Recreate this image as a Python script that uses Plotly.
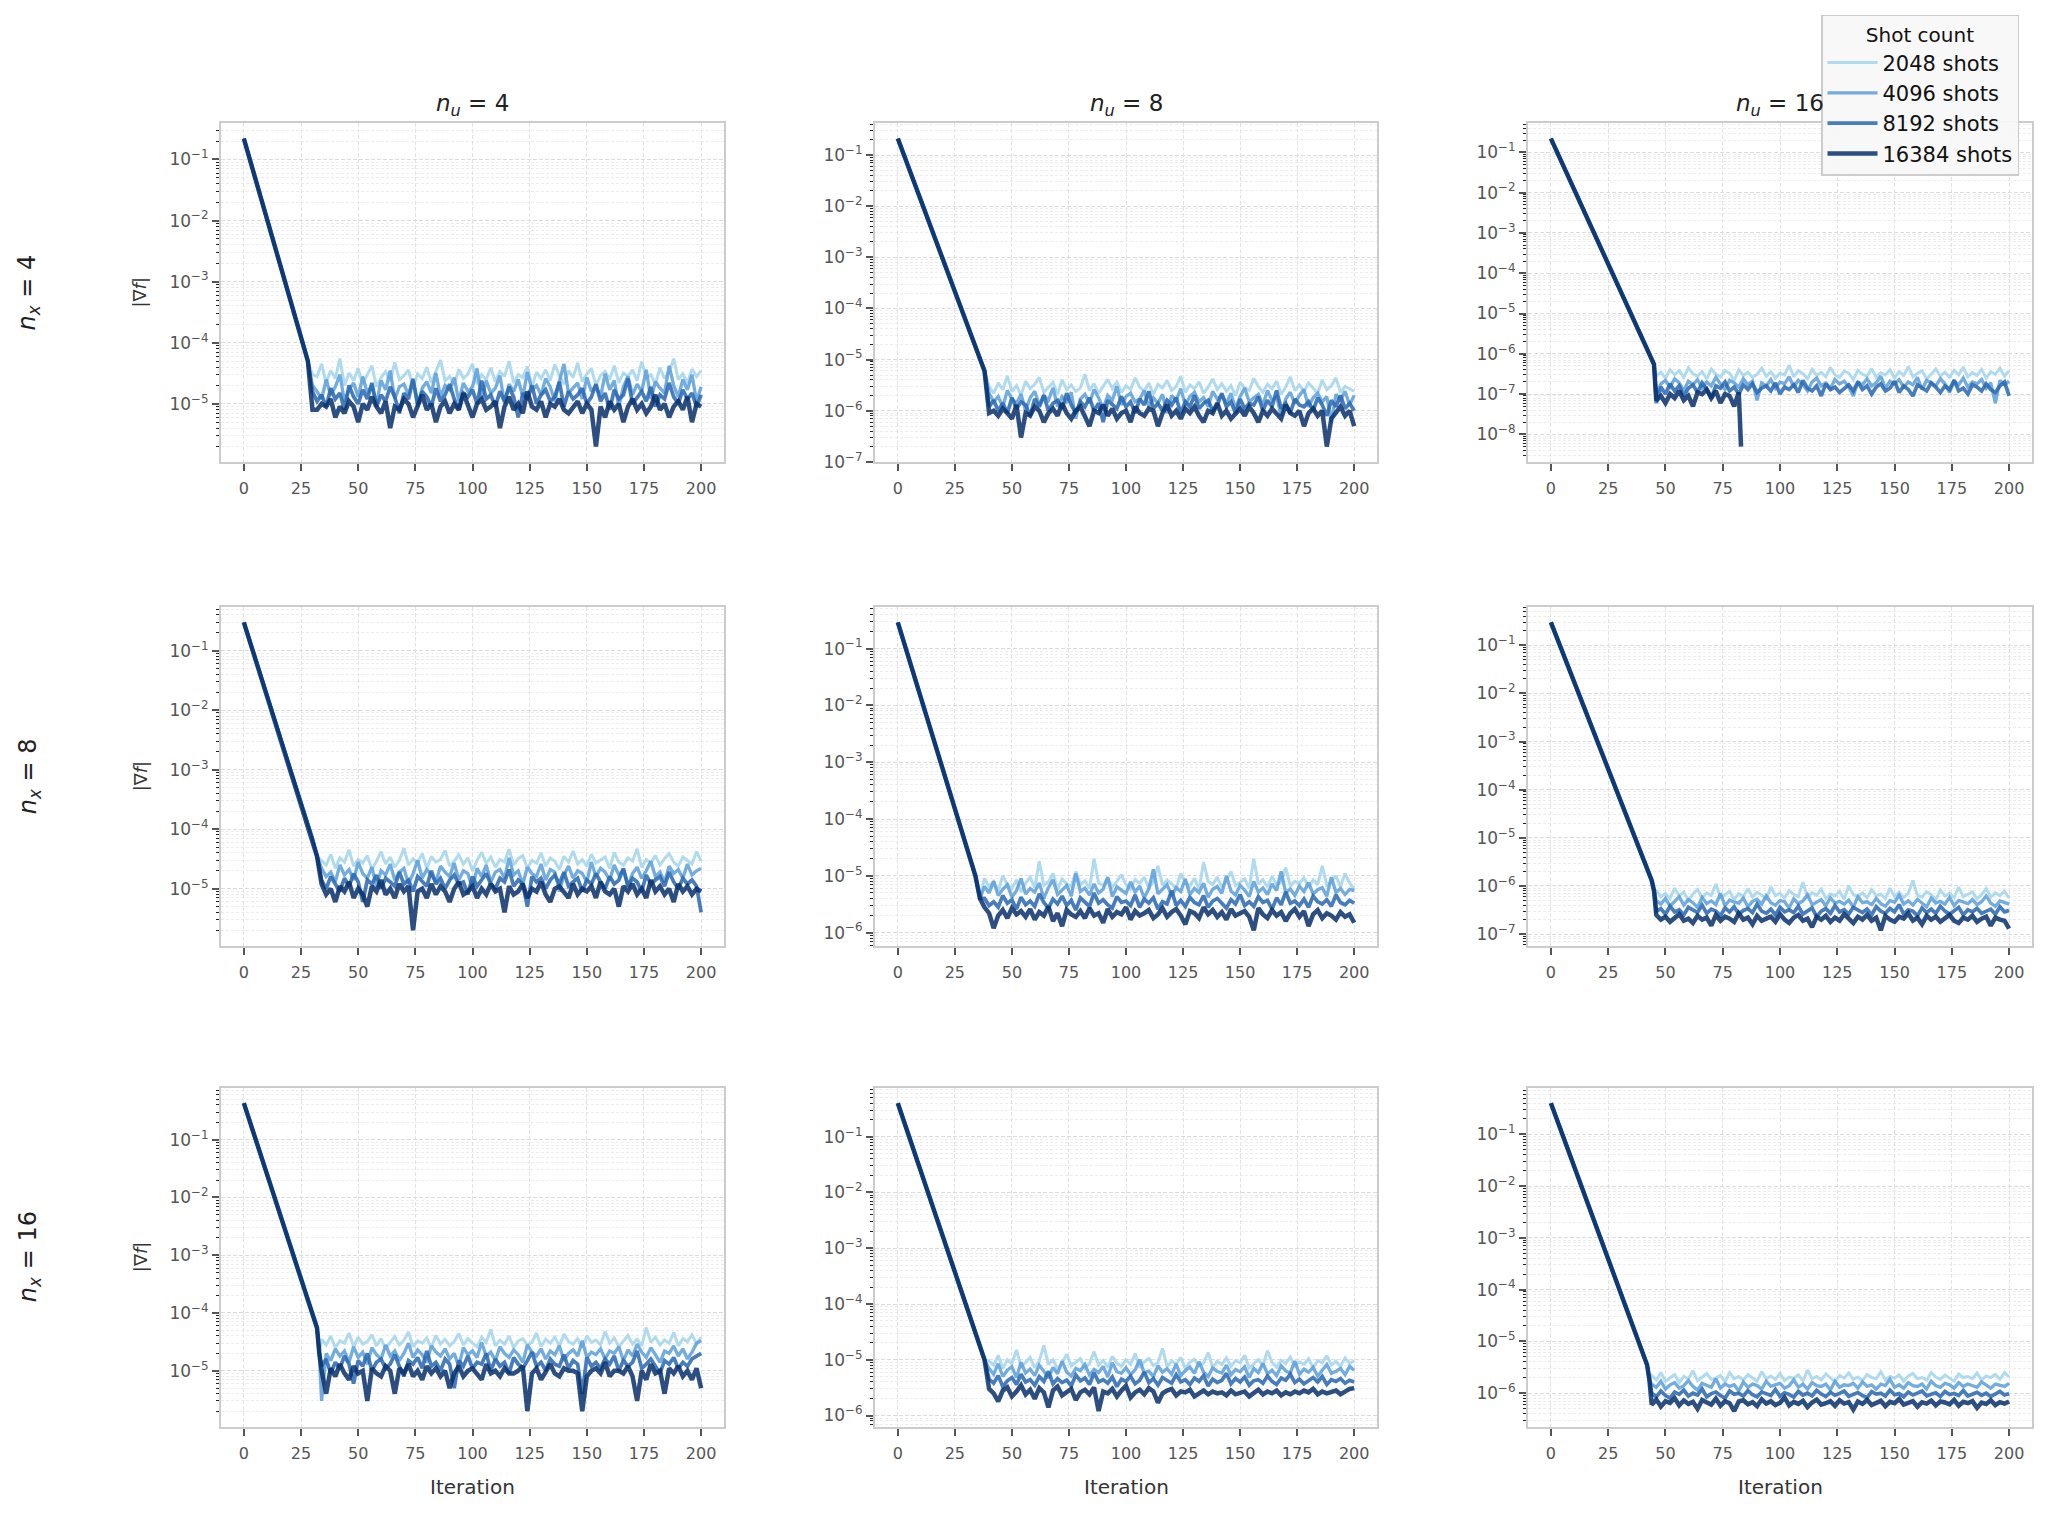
import numpy as np
import plotly.graph_objects as go

W, H = 2046, 1513
SHOTS = ["2048 shots", "4096 shots", "8192 shots", "16384 shots"]
COLORS = ["#a3d5ec", "#5b9fdb", "#2767b1", "#08306b"]
WIDTHS = [3.0, 3.3, 3.7, 4.5]
NU = [4, 8, 16]
NX = [4, 8, 16]
X_TICKS = [0, 25, 50, 75, 100, 125, 150, 175, 200]

# ---------------- row 1 : n_x = 4 ----------------
R1C1_DESC_X = [0, 25, 28]
R1C1_DESC_Y = [0.22, 1.2e-4, 5e-5]
R1C1_START, R1C1_UNIT = 30, 1e-6
R1C1_2048 = [30, 28, 45, 22, 35, 26, 55, 20, 32, 24,
             38, 21, 30, 42, 19, 27, 34, 23, 48, 25,
             29, 36, 18, 31, 26, 40, 22, 33, 52, 24,
             28, 20, 37, 26, 31, 45, 21, 30, 25, 39,
             23, 34, 28, 50, 22, 30, 27, 41, 19, 33,
             26, 36, 24, 44, 29, 21, 35, 27, 47, 23,
             31, 38, 20, 29, 34, 25, 42, 22, 32, 28,
             36, 24, 49, 27, 30, 21, 39, 26, 33, 55,
             25, 31, 22, 37, 28, 35]
R1C1_4096 = [20, 16, 12, 25, 14, 19, 30, 11, 17, 22,
             13, 28, 15, 20, 10, 24, 17, 35, 12, 19,
             21, 14, 26, 9, 18, 23, 15, 32, 13, 20,
             17, 27, 11, 22, 16, 19, 38, 12, 24, 15,
             18, 29, 10, 21, 16, 25, 13, 33, 17, 20,
             14, 26, 19, 11, 23, 45, 15, 18, 22, 12,
             27, 16, 20, 13, 31, 17, 24, 9, 19, 28,
             14, 21, 16, 36, 12, 23, 18, 15, 42, 20,
             13, 25, 17, 30, 11, 19]
R1C1_8192 = [16, 11, 14, 9, 18, 12, 15, 8, 20, 13,
             10, 17, 12, 22, 9, 14, 11, 19, 13, 7,
             15, 12, 25, 10, 16, 13, 9, 18, 11, 14,
             21, 12, 8, 15, 13, 17, 10, 24, 12, 14,
             9, 16, 11, 19, 13, 6, 15, 12, 20, 10,
             14, 17, 11, 13, 23, 9, 16, 12, 14, 18,
             10, 13, 21, 11, 15, 8, 17, 12, 14, 26,
             10, 13, 16, 11, 19, 9, 14, 12, 22, 13,
             10, 17, 12, 15, 9, 14]
R1C1_16384 = [8, 8, 10, 9, 12, 6, 9, 7, 11, 9,
              5, 10, 8, 13, 9, 7, 11, 4, 9, 8,
              12, 10, 6, 9, 14, 8, 10, 5, 9, 11,
              7, 10, 8, 15, 9, 6, 10, 12, 8, 9,
              11, 4, 9, 13, 8, 10, 7, 16, 9, 8,
              11, 6, 10, 9, 12, 8, 7, 9, 11, 7,
              10, 8, 2, 9, 6, 11, 8, 10, 5, 9,
              12, 8, 10, 7, 9, 14, 8, 10, 6, 9,
              11, 8, 13, 5, 10, 9]

R1C2_DESC_X = [0, 36, 38]
R1C2_DESC_Y = [0.21, 1.0e-5, 6e-6]
R1C2_START, R1C2_UNIT = 40, 1e-7
R1C2_2048 = [30, 22, 35, 26, 48, 24, 31, 20, 38, 27,
             33, 45, 23, 29, 36, 21, 40, 26, 32, 24,
             28, 52, 25, 34, 22, 30, 41, 27, 36, 23,
             31, 26, 44, 29, 24, 35, 21, 33, 28, 39,
             25, 30, 47, 23, 32, 27, 37, 22, 29, 42,
             26, 34, 24, 31, 20, 36, 28, 25, 43, 30,
             23, 33, 27, 38, 21, 29, 46, 25, 32, 24,
             35, 28, 22, 40, 26, 31, 44, 23, 30, 27,
             24]
R1C2_4096 = [22, 15, 19, 12, 25, 17, 14, 21, 10, 18,
             24, 13, 20, 16, 28, 12, 19, 15, 23, 7,
             17, 21, 14, 26, 18, 11, 20, 16, 30, 13,
             19, 22, 15, 17, 25, 12, 18, 14, 21, 9,
             20, 16, 27, 13, 19, 23, 15, 18, 12, 24,
             17, 20, 14, 22, 11, 19, 28, 15, 18, 21,
             13, 25, 16, 19, 8, 17, 23, 14, 20, 26,
             12, 18, 22, 15, 19, 6, 21, 16, 24, 13,
             20]
R1C2_8192 = [12, 16, 10, 14, 9, 18, 11, 15, 13, 8,
             17, 12, 20, 10, 14, 16, 11, 22, 13, 9,
             15, 12, 18, 10, 14, 6, 16, 13, 11, 19,
             12, 15, 9, 17, 13, 24, 11, 14, 10, 16,
             13, 18, 9, 15, 12, 20, 11, 14, 16, 10,
             13, 22, 12, 15, 9, 17, 11, 14, 13, 19,
             10, 16, 12, 25, 11, 14, 9, 17, 13, 12,
             15, 10, 18, 13, 8, 16, 12, 20, 11, 14,
             10]
R1C2_16384 = [9, 10, 8, 11, 9, 7, 13, 3, 9, 8,
              12, 10, 6, 9, 11, 8, 14, 9, 7, 10,
              12, 8, 5, 10, 9, 13, 8, 11, 7, 9,
              10, 6, 12, 9, 8, 11, 10, 5, 9, 13,
              8, 10, 7, 11, 9, 12, 8, 6, 10, 9,
              14, 8, 10, 7, 9, 11, 8, 12, 9, 6,
              10, 8, 11, 9, 7, 13, 9, 8, 10, 5,
              9, 11, 8, 10, 2, 7, 9, 12, 8, 10,
              5]

R1C3_DESC_X = [0, 44, 45]
R1C3_DESC_Y = [0.22, 8e-7, 5.5e-7]
R1C3_START, R1C3_UNIT = 46, 1e-8
R1C3_2048 = [28, 35, 25, 40, 30, 38, 26, 45, 32, 28,
             36, 24, 42, 31, 27, 38, 33, 22, 40, 29,
             35, 26, 31, 44, 28, 36, 25, 33, 30, 52,
             27, 38, 32, 24, 41, 29, 35, 27, 46, 30,
             26, 37, 33, 23, 39, 31, 28, 43, 26, 34,
             30, 40, 25, 36, 29, 48, 27, 33, 38, 24,
             31, 42, 28, 35, 26, 39, 30, 47, 27, 34,
             29, 41, 25, 36, 31, 44, 28, 38]
R1C3_4096 = [10, 18, 22, 15, 24, 19, 12, 21, 17, 23,
             14, 20, 16, 26, 18, 13, 22, 19, 15, 24,
             17, 21, 7, 19, 16, 23, 14, 20, 18, 27,
             15, 22, 17, 12, 20, 25, 16, 19, 14, 23,
             18, 21, 15, 9, 20, 17, 24, 16, 19, 28,
             14, 21, 18, 23, 15, 20, 17, 26, 13, 22,
             19, 16, 24, 18, 11, 21, 17, 25, 15, 20,
             18, 23, 14, 19, 6, 22, 17, 21]
R1C3_8192 = [6, 15, 10, 18, 12, 16, 9, 14, 17, 11,
             19, 13, 8, 16, 14, 20, 12, 15, 10, 17,
             13, 18, 11, 14, 16, 12, 19, 10, 15, 13,
             17, 11, 22, 14, 12, 16, 9, 18, 13, 15,
             11, 14, 17, 12, 20, 13, 16, 10, 15, 18,
             12, 14, 21, 11, 16, 13, 9, 17, 14, 12,
             19, 15, 11, 16, 13, 22, 12, 14, 10, 17,
             15, 12, 18, 13, 11, 16, 20, 9]
R1C3_16384 = [7, 9, 6, 10, 8, 12, 7, 9, 5, 11,
              10, 13, 8, 12, 6, 10, 9, 5, 11]
R1C3_16384_END_X, R1C3_16384_END_Y = 83, 5e-9

# ---------------- row 2 : n_x = 8 ----------------
R2C1_DESC_X = [0, 30, 32]
R2C1_DESC_Y = [0.3, 7e-5, 3.5e-5]
R2C1_START, R2C1_UNIT = 34, 1e-6
R2C1_2048 = [30, 25, 38, 22, 33, 28, 45, 24, 31, 27,
             36, 21, 29, 42, 26, 34, 23, 30, 48, 25,
             32, 27, 39, 22, 35, 28, 31, 44, 24, 29,
             37, 26, 33, 20, 30, 41, 27, 34, 23, 31,
             28, 46, 25, 32, 36, 22, 30, 27, 40, 24,
             33, 29, 21, 35, 28, 43, 26, 31, 24, 38,
             27, 30, 34, 22, 41, 28, 25, 33, 29, 47,
             23, 31, 27, 36, 25, 32, 39, 28, 24, 34,
             30, 26, 42, 29]
R2C1_4096 = [22, 16, 19, 13, 25, 17, 21, 14, 28, 18,
             15, 23, 11, 20, 17, 26, 14, 19, 22, 12,
             18, 30, 15, 21, 17, 13, 24, 19, 16, 27,
             14, 20, 18, 10, 22, 16, 25, 13, 19, 21,
             15, 33, 17, 20, 12, 23, 18, 16, 26, 14,
             21, 19, 9, 17, 24, 15, 20, 18, 13, 28,
             16, 22, 19, 14, 25, 17, 21, 11, 18, 23,
             15, 20, 29, 16, 19, 13, 24, 18, 21, 15,
             26, 17, 20, 22]
R2C1_8192 = [14, 10, 16, 12, 9, 15, 11, 18, 13, 6,
             14, 12, 17, 10, 15, 13, 11, 19, 12, 14,
             9, 16, 13, 11, 20, 12, 15, 10, 14, 17,
             12, 13, 8, 16, 11, 14, 18, 12, 10, 15,
             13, 21, 11, 14, 12, 5, 16, 13, 15, 10,
             14, 17, 12, 19, 11, 13, 15, 9, 14, 12,
             18, 13, 10, 16, 12, 14, 22, 11, 15, 13,
             9, 17, 12, 14, 16, 11, 19, 13, 10, 15,
             12, 14, 11, 4]
R2C1_16384 = [12, 8, 10, 6, 11, 9, 13, 7, 10, 8,
              5, 11, 9, 14, 8, 10, 7, 12, 9, 11,
              2, 9, 10, 7, 12, 8, 11, 9, 6, 10,
              13, 8, 9, 11, 7, 10, 8, 12, 9, 10,
              4, 11, 8, 9, 12, 7, 10, 9, 13, 8,
              6, 10, 11, 9, 7, 12, 8, 10, 9, 11,
              7, 13, 9, 8, 10, 5, 11, 9, 12, 8,
              10, 7, 14, 9, 11, 8, 10, 6, 12, 9,
              11, 8, 10, 9]

R2C2_DESC_X = [0, 34, 36]
R2C2_DESC_Y = [0.29, 1e-5, 4e-6]
R2C2_START, R2C2_UNIT = 38, 1e-7
R2C2_2048 = [90, 65, 80, 55, 100, 70, 60, 85, 52, 75,
             95, 62, 180, 68, 78, 110, 58, 88, 72, 65,
             120, 70, 82, 60, 200, 75, 68, 92, 63, 80,
             105, 70, 58, 86, 74, 95, 62, 78, 150, 68,
             84, 72, 60, 110, 76, 66, 90, 58, 175, 80,
             70, 95, 63, 82, 120, 68, 76, 88, 60, 200,
             72, 85, 64, 98, 70, 78, 140, 66, 80, 74,
             92, 62, 85, 70, 150, 68, 78, 100, 64, 110,
             75, 58]
R2C2_4096 = [65, 50, 80, 45, 58, 70, 42, 55, 90, 48,
             60, 52, 75, 40, 62, 85, 47, 56, 68, 44,
             110, 53, 61, 46, 72, 50, 58, 95, 43, 64,
             55, 49, 78, 52, 66, 41, 59, 130, 48, 57,
             70, 45, 62, 53, 88, 47, 60, 51, 74, 42,
             58, 65, 49, 100, 54, 46, 68, 56, 43, 80,
             52, 61, 47, 72, 55, 120, 50, 59, 45, 66,
             53, 76, 48, 57, 62, 44, 95, 51, 60, 47,
             58, 55]
R2C2_8192 = [40, 30, 35, 28, 45, 33, 38, 26, 42, 31,
             36, 29, 48, 34, 27, 39, 32, 44, 30, 37,
             25, 41, 35, 29, 50, 33, 38, 31, 27, 43,
             34, 36, 30, 46, 28, 39, 33, 41, 26, 35,
             32, 55, 30, 37, 29, 42, 34, 31, 45, 28,
             36, 40, 33, 27, 38, 32, 47, 30, 35, 29,
             43, 34, 37, 26, 41, 31, 52, 33, 36, 30,
             39, 28, 44, 35, 32, 38, 29, 46, 34, 31,
             37, 33]
R2C2_16384 = [28, 22, 12, 20, 25, 18, 27, 21, 24, 19,
              26, 17, 23, 20, 29, 16, 22, 13, 25, 21,
              19, 24, 18, 27, 20, 22, 15, 26, 19, 23,
              21, 28, 17, 24, 20, 22, 25, 18, 21, 27,
              19, 23, 26, 20, 14, 24, 22, 18, 28, 21,
              25, 19, 23, 17, 26, 20, 22, 24, 19, 11,
              27, 21, 18, 25, 20, 23, 16, 22, 26, 19,
              24, 13, 21, 25, 18, 22, 20, 17, 23, 19,
              21, 15]

R2C3_DESC_X = [0, 44, 45]
R2C3_DESC_Y = [0.3, 1.3e-6, 8e-7]
R2C3_START, R2C3_UNIT = 46, 1e-8
R2C3_2048 = [80, 60, 70, 55, 90, 62, 75, 50, 68, 85,
             58, 72, 64, 110, 57, 66, 78, 52, 70, 61,
             88, 59, 74, 65, 54, 95, 63, 71, 56, 80,
             67, 60, 120, 58, 73, 64, 86, 55, 69, 62,
             77, 53, 100, 66, 60, 72, 57, 84, 63, 68,
             55, 90, 61, 74, 58, 70, 130, 64, 59, 76,
             66, 52, 82, 62, 71, 57, 95, 60, 68, 75,
             54, 66, 88, 59, 72, 63, 78, 56]
R2C3_4096 = [50, 42, 55, 38, 47, 60, 40, 52, 45, 36,
             58, 43, 49, 41, 70, 39, 51, 46, 44, 56,
             37, 48, 53, 42, 62, 45, 40, 50, 47, 35,
             54, 43, 49, 66, 41, 46, 52, 39, 57, 44,
             48, 42, 51, 36, 60, 45, 47, 41, 55, 43,
             38, 50, 46, 64, 42, 49, 40, 53, 45, 37,
             56, 44, 48, 42, 58, 39, 50, 46, 43, 52,
             41, 47, 62, 44, 38, 49, 45, 42]
R2C3_8192 = [30, 34, 26, 38, 29, 32, 25, 36, 31, 28,
             40, 27, 33, 30, 24, 35, 29, 37, 26, 31,
             34, 28, 42, 30, 27, 33, 25, 36, 29, 32,
             28, 38, 26, 31, 35, 23, 30, 34, 27, 39,
             29, 32, 26, 36, 31, 28, 33, 25, 37, 30,
             27, 34, 29, 41, 26, 32, 30, 24, 35, 28,
             33, 27, 38, 30, 26, 31, 36, 25, 32, 29,
             34, 27, 30, 33, 26, 37, 29, 31]
R2C3_16384 = [25, 20, 23, 18, 22, 26, 19, 21, 17, 24,
              20, 22, 15, 25, 19, 23, 21, 18, 27, 20,
              22, 16, 24, 19, 21, 23, 18, 26, 20, 17,
              22, 25, 19, 21, 14, 23, 20, 24, 18, 22,
              19, 26, 21, 17, 23, 20, 25, 19, 22, 12,
              24, 20, 18, 23, 21, 27, 19, 22, 16, 24,
              20, 23, 18, 21, 25, 19, 17, 22, 20, 24,
              18, 21, 23, 15, 22, 20, 19, 13]

# ---------------- row 3 : n_x = 16 ----------------
R3C1_DESC_X = [0, 32, 33]
R3C1_DESC_Y = [0.43, 5.5e-5, 2e-5]
R3C1_START, R3C1_UNIT = 34, 1e-6
R3C1_2048 = [35, 28, 40, 25, 33, 30, 45, 26, 38, 29,
             32, 42, 27, 36, 24, 31, 39, 28, 34, 47,
             26, 33, 30, 37, 25, 41, 29, 35, 27, 32,
             44, 28, 36, 30, 26, 38, 31, 52, 27, 34,
             29, 40, 25, 33, 36, 28, 31, 45, 26, 35,
             30, 38, 27, 43, 32, 29, 36, 25, 40, 31,
             34, 28, 48, 30, 37, 26, 33, 41, 29, 35,
             27, 56, 31, 38, 28, 34, 30, 46, 27, 36,
             32, 42, 29, 38]
R3C1_4096 = [3, 20, 15, 24, 18, 22, 14, 26, 17, 21,
             13, 25, 19, 16, 28, 18, 22, 15, 20, 30,
             17, 23, 19, 14, 27, 21, 18, 24, 16, 20,
             12, 25, 19, 22, 17, 31, 18, 21, 15, 26,
             20, 17, 23, 19, 14, 28, 21, 18, 24, 16,
             22, 19, 27, 15, 20, 23, 18, 33, 17, 21,
             19, 24, 16, 22, 20, 26, 15, 23, 18, 29,
             21, 17, 25, 19, 14, 22, 20, 27, 18, 24,
             16, 21, 30, 33]
R3C1_8192 = [12, 16, 9, 14, 11, 18, 13, 6, 15, 12,
             20, 10, 14, 16, 11, 13, 19, 12, 8, 15,
             13, 17, 11, 22, 12, 14, 10, 16, 13, 5,
             15, 12, 18, 11, 14, 13, 20, 10, 16, 12,
             14, 9, 17, 13, 11, 15, 21, 12, 14, 10,
             16, 13, 12, 19, 11, 15, 13, 4, 17, 12,
             14, 11, 16, 13, 18, 10, 15, 12, 14, 22,
             11, 13, 16, 12, 9, 15, 13, 17, 11, 14,
             12, 16, 18, 20]
R3C1_16384 = [10, 4, 11, 8, 13, 9, 7, 12, 9, 10,
              3, 11, 9, 8, 12, 10, 4, 11, 9, 13,
              8, 10, 7, 12, 9, 11, 8, 10, 5, 9,
              12, 8, 10, 11, 9, 7, 13, 9, 10, 8,
              11, 9, 9, 10, 12, 2, 9, 11, 7, 10,
              13, 9, 8, 11, 10, 10, 9, 2, 8, 10,
              11, 9, 14, 8, 10, 10, 9, 12, 8, 3,
              10, 7, 13, 9, 10, 4, 11, 9, 12, 8,
              10, 7, 11, 5]

R3C2_DESC_X = [0, 36, 38]
R3C2_DESC_Y = [0.4, 1.8e-5, 1e-5]
R3C2_START, R3C2_UNIT = 40, 1e-7
R3C2_2048 = [95, 80, 120, 70, 100, 85, 150, 75, 90, 110,
             72, 95, 180, 82, 100, 68, 88, 125, 78, 92,
             105, 70, 86, 140, 80, 97, 74, 115, 88, 76,
             100, 83, 130, 72, 92, 106, 79, 88, 160, 75,
             95, 84, 110, 70, 90, 102, 78, 87, 135, 73,
             94, 82, 108, 76, 96, 88, 120, 71, 85, 100,
             79, 145, 90, 74, 98, 86, 112, 77, 92, 83,
             104, 72, 96, 88, 118, 80, 94, 76, 108, 86,
             95]
R3C2_4096 = [70, 55, 85, 50, 65, 75, 48, 90, 58, 68,
             52, 80, 62, 47, 73, 56, 95, 60, 51, 70,
             64, 82, 53, 67, 59, 76, 49, 88, 61, 57,
             72, 54, 66, 100, 58, 63, 50, 78, 60, 69,
             55, 84, 52, 64, 74, 57, 92, 60, 50, 71,
             62, 58, 80, 54, 67, 61, 75, 48, 70, 59,
             86, 56, 65, 52, 78, 63, 58, 95, 55, 68,
             60, 73, 51, 66, 82, 57, 62, 70, 54, 76,
             65]
R3C2_8192 = [45, 38, 52, 33, 42, 48, 36, 55, 40, 44,
             35, 50, 41, 62, 37, 46, 39, 43, 34, 53,
             42, 47, 36, 58, 40, 44, 38, 49, 33, 45,
             41, 51, 37, 43, 60, 39, 46, 35, 48, 42,
             38, 54, 40, 44, 36, 47, 41, 52, 34, 45,
             39, 43, 57, 37, 46, 40, 49, 35, 42, 44,
             38, 51, 41, 36, 47, 43, 55, 39, 45, 37,
             42, 48, 40, 50, 36, 44, 41, 46, 38, 43,
             40]
R3C2_16384 = [30, 25, 18, 28, 32, 22, 27, 35, 24, 29,
              20, 31, 26, 14, 28, 33, 23, 27, 30, 19,
              26, 29, 24, 32, 12, 27, 25, 30, 22, 28,
              34, 21, 26, 29, 24, 31, 27, 17, 25, 28,
              30, 23, 27, 26, 29, 22, 25, 28, 24, 27,
              25, 26, 23, 28, 24, 25, 27, 22, 26, 29,
              24, 27, 25, 28, 23, 26, 24, 27, 25, 28,
              26, 30, 24, 27, 25, 26, 28, 24, 27, 30,
              31]

R3C3_DESC_X = [0, 42, 43]
R3C3_DESC_Y = [0.4, 3.5e-6, 1.8e-6]
R3C3_START, R3C3_UNIT = 44, 1e-8
R3C3_2048 = [220, 180, 250, 170, 200, 230, 160, 210, 190, 270,
             175, 205, 240, 185, 195, 220, 165, 250, 190, 210,
             180, 230, 200, 170, 260, 190, 215, 185, 240, 175,
             205, 195, 225, 170, 280, 190, 210, 180, 235, 200,
             165, 220, 195, 245, 185, 205, 175, 230, 200, 190,
             260, 180, 210, 195, 225, 170, 215, 240, 190, 200,
             180, 250, 205, 185, 225, 195, 170, 235, 200, 210,
             190, 245, 180, 215, 200, 230, 185, 250, 205]
R3C3_4096 = [150, 130, 170, 120, 145, 160, 125, 140, 175, 135,
             115, 155, 140, 130, 190, 125, 150, 135, 145, 110,
             165, 130, 150, 140, 120, 170, 135, 145, 155, 125,
             140, 180, 130, 150, 120, 160, 140, 135, 150, 115,
             170, 130, 145, 140, 155, 125, 165, 135, 145, 120,
             150, 140, 185, 130, 145, 125, 160, 140, 135, 150,
             120, 170, 140, 130, 155, 145, 125, 160, 135, 150,
             140, 130, 165, 145, 125, 150, 140, 135, 155]
R3C3_8192 = [100, 85, 110, 90, 80, 105, 95, 115, 88, 100,
             92, 120, 85, 98, 105, 90, 80, 110, 95, 100,
             88, 112, 93, 85, 105, 98, 90, 118, 87, 102,
             95, 84, 108, 92, 100, 89, 113, 96, 86, 104,
             91, 99, 110, 87, 95, 103, 90, 82, 107, 96,
             100, 88, 115, 93, 98, 85, 105, 92, 100, 110,
             89, 95, 102, 86, 108, 94, 99, 90, 112, 88,
             97, 104, 91, 100, 86, 95, 108, 92, 98]
R3C3_16384 = [60, 75, 55, 70, 65, 80, 58, 72, 62, 68,
              50, 74, 66, 60, 78, 57, 70, 64, 45, 69,
              73, 61, 67, 56, 76, 63, 70, 59, 65, 82,
              58, 68, 62, 71, 54, 66, 75, 60, 64, 70,
              57, 73, 63, 67, 48, 69, 62, 74, 59, 66,
              71, 56, 68, 64, 77, 60, 65, 70, 55, 67,
              63, 72, 58, 69, 66, 61, 74, 57, 68, 64,
              70, 52, 66, 62, 73, 59, 67, 63, 69]

PANELS = [
    [(R1C1_DESC_X, R1C1_DESC_Y, R1C1_START, R1C1_UNIT, [R1C1_2048, R1C1_4096, R1C1_8192, R1C1_16384]),
     (R1C2_DESC_X, R1C2_DESC_Y, R1C2_START, R1C2_UNIT, [R1C2_2048, R1C2_4096, R1C2_8192, R1C2_16384]),
     (R1C3_DESC_X, R1C3_DESC_Y, R1C3_START, R1C3_UNIT, [R1C3_2048, R1C3_4096, R1C3_8192, R1C3_16384])],
    [(R2C1_DESC_X, R2C1_DESC_Y, R2C1_START, R2C1_UNIT, [R2C1_2048, R2C1_4096, R2C1_8192, R2C1_16384]),
     (R2C2_DESC_X, R2C2_DESC_Y, R2C2_START, R2C2_UNIT, [R2C2_2048, R2C2_4096, R2C2_8192, R2C2_16384]),
     (R2C3_DESC_X, R2C3_DESC_Y, R2C3_START, R2C3_UNIT, [R2C3_2048, R2C3_4096, R2C3_8192, R2C3_16384])],
    [(R3C1_DESC_X, R3C1_DESC_Y, R3C1_START, R3C1_UNIT, [R3C1_2048, R3C1_4096, R3C1_8192, R3C1_16384]),
     (R3C2_DESC_X, R3C2_DESC_Y, R3C2_START, R3C2_UNIT, [R3C2_2048, R3C2_4096, R3C2_8192, R3C2_16384]),
     (R3C3_DESC_X, R3C3_DESC_Y, R3C3_START, R3C3_UNIT, [R3C3_2048, R3C3_4096, R3C3_8192, R3C3_16384])],
]

# ---------------- layout geometry (pixels) ----------------
COL_PX = [(221, 724), (875, 1377), (1528, 2032)]
ROW_PX = [(124, 465), (611, 952), (1095, 1436)]

FONT = "DejaVu Sans"
fig = go.Figure()
layout = dict(width=W, height=H, autosize=False, margin=dict(l=0, r=0, t=0, b=0),
              paper_bgcolor="white", plot_bgcolor="white", font=dict(family=FONT, color="#333"))
annotations = []

for r in range(3):
    for c in range(3):
        idx = r * 3 + c + 1
        sx = "" if idx == 1 else str(idx)
        desc_x, desc_y, start, unit, series = PANELS[r][c]
        all_y = []
        for s in range(4):
            vals = series[s]
            xs = list(desc_x) + [start + 2 * i for i in range(len(vals))]
            ys = list(desc_y) + [v * unit for v in vals]
            if r == 0 and c == 2 and s == 3:
                xs.append(R1C3_16384_END_X)
                ys.append(R1C3_16384_END_Y)
            all_y += ys
            fig.add_trace(go.Scatter(
                x=xs, y=ys, mode="lines", name=SHOTS[s], legendgroup=SHOTS[s],
                showlegend=(idx == 1), opacity=0.85,
                line=dict(color=COLORS[s], width=WIDTHS[s]),
                xaxis="x" + sx, yaxis="y" + sx, hoverinfo="skip"))
        lo, hi = np.log10(min(all_y)), np.log10(max(all_y))
        pad = 0.05 * (hi - lo)
        yr = [lo - pad, hi + pad]
        decs = list(range(int(np.floor(yr[0])), int(np.ceil(yr[1])) + 1))
        major = [10.0 ** d for d in decs]
        majtxt = ["10<sup>\u2212%d</sup>" % (-d) if d < 0 else "10<sup>%d</sup>" % d for d in decs]
        minor = [k * 10.0 ** d for d in decs for k in range(2, 10)]
        x0, x1 = COL_PX[c]
        y0, y1 = ROW_PX[r]
        xd = [x0 / W, x1 / W]
        yd = [1 - y1 / H, 1 - y0 / H]
        layout["xaxis" + sx] = dict(
            domain=xd, anchor="y" + sx, range=[-10, 210], tickmode="array", tickvals=X_TICKS,
            ticks="outside", ticklen=7, tickwidth=2, tickcolor="#555", ticklabelstandoff=4,
            tickfont=dict(family=FONT, size=16, color="#555"),
            showline=True, mirror=True, linecolor="#cccccc", linewidth=2,
            showgrid=True, gridcolor="#e3e3e3", griddash="4px,2px", gridwidth=1, zeroline=False)
        layout["yaxis" + sx] = dict(
            domain=yd, anchor="x" + sx, type="log", range=yr, tickmode="array",
            tickvals=major, ticktext=majtxt, ticks="outside", ticklen=7, tickwidth=1.5,
            tickcolor="#555", tickfont=dict(family=FONT, size=17, color="#555"),
            showline=True, mirror=True, linecolor="#cccccc", linewidth=2,
            showgrid=True, gridcolor="#dcdcdc", griddash="4px,2px", gridwidth=1, zeroline=False,
            minor=dict(tickmode="array", tickvals=minor, ticks="outside", ticklen=3.5,
                       tickwidth=1, tickcolor="#222", showgrid=True, gridcolor="#ededed",
                       griddash="3px,2px", gridwidth=1))
        if r == 0:
            annotations.append(dict(
                text="<i>n</i><sub><i>u</i></sub> = %d" % NU[c], x=(xd[0] + xd[1]) / 2,
                y=1 - 106 / H, xref="paper", yref="paper", showarrow=False,
                xanchor="center", yanchor="middle", font=dict(family=FONT, size=23, color="#222")))
        if r == 2:
            annotations.append(dict(
                text="Iteration", x=(xd[0] + xd[1]) / 2, y=1 - 1497 / H, xref="paper", yref="paper",
                showarrow=False, xanchor="center", yanchor="middle",
                font=dict(family=FONT, size=20, color="#333")))
        if c == 0:
            annotations.append(dict(
                text="|\u2207<i>f</i>|", x=140 / W, y=(yd[0] + yd[1]) / 2, xref="paper", yref="paper",
                showarrow=False, textangle=-90, xanchor="center", yanchor="middle",
                font=dict(family=FONT, size=18, color="#333")))
            annotations.append(dict(
                text="<i>n</i><sub><i>x</i></sub> = %d" % NX[r], x=29 / W, y=(yd[0] + yd[1]) / 2,
                xref="paper", yref="paper", showarrow=False, textangle=-90,
                xanchor="center", yanchor="middle", font=dict(family=FONT, size=24, color="#222")))

layout["annotations"] = annotations
layout["legend"] = dict(
    x=2019 / W, y=1 - 15 / H, xanchor="right", yanchor="top",
    bgcolor="rgba(247,247,247,0.92)", bordercolor="#cccccc", borderwidth=1.5,
    font=dict(family=FONT, size=21, color="#111"), itemwidth=50, tracegroupgap=0,
    title=dict(text="Shot count", side="top center", font=dict(family=FONT, size=20, color="#111")))
fig.update_layout(**layout)
fig.write_html("out.html")
